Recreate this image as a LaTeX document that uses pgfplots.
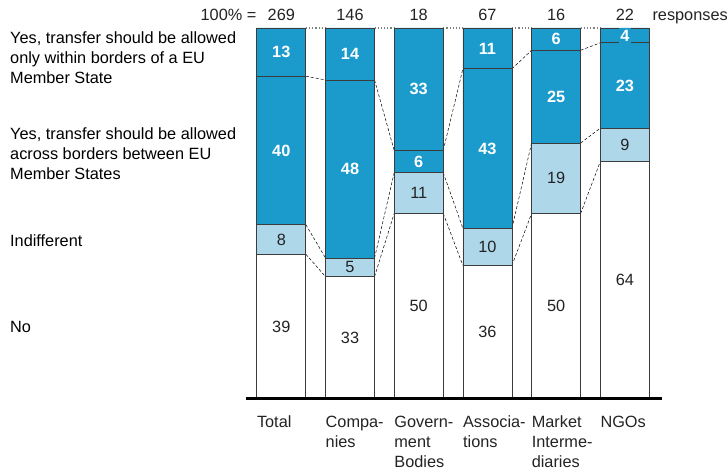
\documentclass[border=0pt]{standalone}
\usepackage{pgfplots}
\pgfplotsset{compat=1.18}
\usepackage{pgfplotstable}
\usepackage{fontspec}
\setmainfont{Liberation Sans}
\definecolor{dblue}{RGB}{27,155,204}
\definecolor{lblue}{RGB}{174,216,234}
\definecolor{edge}{RGB}{60,60,60}
\definecolor{txt}{RGB}{35,35,35}

\pgfplotstableread{
x no ind across within
0 39 8 40 13
1 33 5 48 14
2 50 11 6 33
3 36 10 43 11
4 50 19 25 6
5 64 9 23 4
}\shares

\tikzset{lbl/.style={text=txt}, wlbl/.style={text=white, font=\fontsize{16.3bp}{20bp}\selectfont\bfseries}}

\begin{document}
\begin{tikzpicture}[font=\fontsize{16.3bp}{20bp}\selectfont]
\path[use as bounding box] (0,0) rectangle (728bp,472bp);
\pgfplotsset{commonaxis/.style={at={(246bp,73bp)}, anchor=south west,
  scale only axis, width=415.7bp, height=371bp,
  xmin=-0.514, xmax=5.537, ymin=0, ymax=100, clip=false}}

% connecting lines
\begin{axis}[commonaxis, axis lines=none]
\addplot[densely dashed, black, line width=0.5pt, unbounded coords=jump, mark=none] coordinates {
(0.357,39) (0.643,33) (nan,nan) (0.357,47) (0.643,38) (nan,nan) (0.357,87) (0.643,86) (nan,nan)
(1.357,33) (1.643,50) (nan,nan) (1.357,38) (1.643,61) (nan,nan) (1.357,86) (1.643,67) (nan,nan)
(2.357,50) (2.643,36) (nan,nan) (2.357,61) (2.643,46) (nan,nan) (2.357,67) (2.643,89) (nan,nan)
(3.357,36) (3.643,50) (nan,nan) (3.357,46) (3.643,69) (nan,nan) (3.357,89) (3.643,94) (nan,nan)
(4.357,50) (4.643,64) (nan,nan) (4.357,69) (4.643,73) (nan,nan) (4.357,94) (4.643,96)
};
\addplot[dotted, gray, line width=1.2pt, unbounded coords=jump, mark=none] coordinates {
(0.357,100) (0.643,100) (nan,nan) (1.357,100) (1.643,100) (nan,nan) (2.357,100) (2.643,100) (nan,nan)
(3.357,100) (3.643,100) (nan,nan) (4.357,100) (4.643,100)
};
\end{axis}

% bars
\begin{axis}[commonaxis, ybar stacked, bar width=49bp,
  axis x line=bottom, axis y line=none,
  x axis line style={draw=none},
  xtick={0,1,2,3,4,5}, major tick length=0pt,
  xticklabels={Total, {Compa-\\nies}, {Govern-\\ment\\Bodies}, {Associa-\\tions}, {Market\\Interme-\\diaries}, NGOs},
  xticklabel style={align=left, anchor=north west, xshift=-24.5bp, yshift=-16.5bp, inner sep=0pt, text=txt}]
\addplot[fill=white, draw=edge, line width=0.8pt] table[x=x, y=no]{\shares};
\addplot[fill=lblue, draw=edge, line width=0.8pt] table[x=x, y=ind]{\shares};
\addplot[fill=dblue, draw=edge, line width=0.8pt] table[x=x, y=across]{\shares};
\addplot[fill=dblue, draw=edge, line width=0.8pt] table[x=x, y=within]{\shares};
\end{axis}

% labels and baseline
\begin{axis}[commonaxis, axis x line=bottom, axis y line=none, xtick=\empty,
  x axis line style={line width=2.3pt, draw=black, -}]
\addplot[draw=black, line width=2.3pt, mark=none, forget plot] coordinates {(-0.514,0.3) (5.537,0.3)};
\node[lbl] at (axis cs:0,19.5) {39};
\node[lbl] at (axis cs:0,43) {8};
\node[wlbl] at (axis cs:0,67) {40};
\node[wlbl] at (axis cs:0,93.5) {13};
\node[lbl] at (axis cs:1,16.5) {33};
\node[lbl] at (axis cs:1,35.5) {5};
\node[wlbl] at (axis cs:1,62) {48};
\node[wlbl] at (axis cs:1,93) {14};
\node[lbl] at (axis cs:2,25) {50};
\node[lbl] at (axis cs:2,55.5) {11};
\node[wlbl] at (axis cs:2,64) {6};
\node[wlbl] at (axis cs:2,83.5) {33};
\node[lbl] at (axis cs:3,18) {36};
\node[lbl] at (axis cs:3,41) {10};
\node[wlbl] at (axis cs:3,67.5) {43};
\node[wlbl] at (axis cs:3,94.5) {11};
\node[lbl] at (axis cs:4,25) {50};
\node[lbl] at (axis cs:4,59.5) {19};
\node[wlbl] at (axis cs:4,81.5) {25};
\node[wlbl] at (axis cs:4,97) {6};
\node[lbl] at (axis cs:5,32) {64};
\node[lbl] at (axis cs:5,68.5) {9};
\node[wlbl] at (axis cs:5,84.5) {23};
\node[wlbl, fill=dblue, inner sep=1.5pt] at (axis cs:5,98) {4};

% top totals
\node[anchor=base east, inner sep=0pt, text=txt] at (axis cs:-0.36,100) [yshift=7bp] {100\% =};
\node[anchor=base, inner sep=0pt, text=txt] at (axis cs:0,100) [yshift=7bp] {269};
\node[anchor=base, inner sep=0pt, text=txt] at (axis cs:1,100) [yshift=7bp] {146};
\node[anchor=base, inner sep=0pt, text=txt] at (axis cs:2,100) [yshift=7bp] {18};
\node[anchor=base, inner sep=0pt, text=txt] at (axis cs:3,100) [yshift=7bp] {67};
\node[anchor=base, inner sep=0pt, text=txt] at (axis cs:4,100) [yshift=7bp] {16};
\node[anchor=base, inner sep=0pt, text=txt] at (axis cs:5,100) [yshift=7bp] {22};
\node[anchor=base west, inner sep=0pt, text=txt] at (axis cs:5.357,100) [xshift=3bp, yshift=7bp] {responses};
\end{axis}

% row labels (base anchor = last line)
\node[anchor=base west, align=left, inner sep=0pt, text=black] at (10bp,388.5bp) {Yes, transfer should be allowed\\only within borders of a EU\\Member State};
\node[anchor=base west, align=left, inner sep=0pt, text=black] at (10bp,292bp) {Yes, transfer should be allowed\\across borders between EU\\Member States};
\node[anchor=base west, inner sep=0pt, text=black] at (10bp,225bp) {Indifferent};
\node[anchor=base west, inner sep=0pt, text=black] at (10bp,139bp) {No};
\end{tikzpicture}
\end{document}
